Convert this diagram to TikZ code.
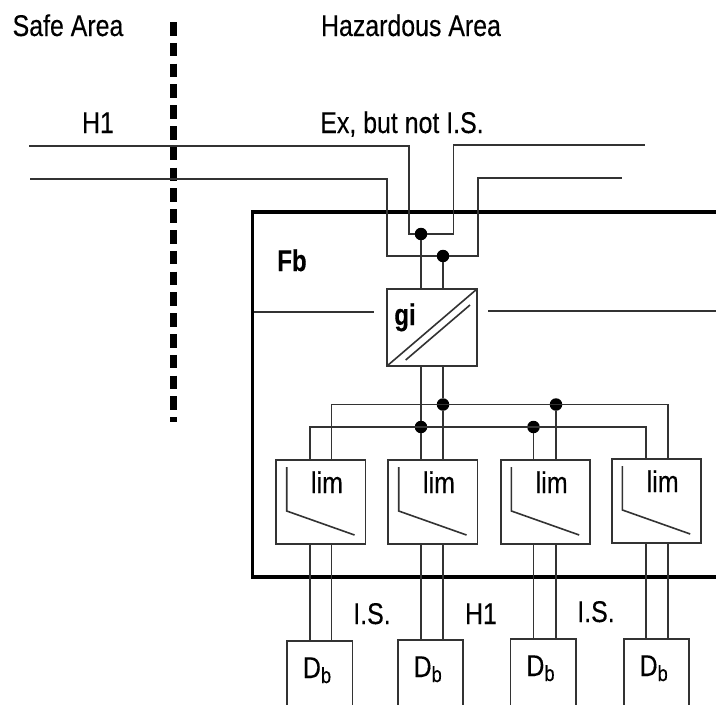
\documentclass[tikz,border=0pt]{standalone}
\usepackage{fontspec}
\setmainfont[FakeStretch=0.83,FakeBold=0.25,BoldFeatures={FakeStretch=0.8,FakeBold=0.4}]{Liberation Sans}
\definecolor{wirecol}{HTML}{333333}
\tikzset{
  x=1pt,y=-1pt,
  wire/.style={draw=wirecol,line width=1.6pt,line join=miter},
  frameline/.style={draw=black,line width=3.6pt,line join=miter},
  barrier/.style={draw=black,line width=7pt,dash pattern=on 13.5pt off 7.3pt},
  dotnode/.style={circle,fill=black,inner sep=0pt,outer sep=0pt,minimum size=12.5pt},
  txt/.style={anchor=base,inner sep=0pt,text=black,font=\fontsize{30}{32}\selectfont},
  boldtxt/.style={txt,font=\fontsize{30}{32}\selectfont\bfseries},
  box/.style={wire,rectangle,inner sep=0pt,outer sep=0pt,fill=white,anchor=north west},
  gibox/.style={box,minimum width=90pt,minimum height=77pt},
  limbox/.style={box,minimum width=89.5pt,minimum height=84pt},
  dbbox/.style={box,minimum width=65.5pt,minimum height=100pt},
}
\newcommand{\limcurve}[1]{%
  \draw[wire] ([shift={(10.7,7)}]#1.north west) -- ([shift={(10.7,51)}]#1.north west) -- ([shift={(78.5,75)}]#1.north west);
  \node[txt] at ([shift={(51,33)}]#1.north west) {lim};}
\newcommand{\dbtext}[1]{%
  \node[txt] at ([shift={(30,37)}]#1.north west) {D\raisebox{-5pt}{\fontsize{22}{24}\selectfont b}};}
\begin{document}
\begin{tikzpicture}
\clip (0,0) rectangle (716,705);
\fill[white] (0,0) rectangle (716,705);

% barrier
\coordinate (bt) at (173.5,22);
\coordinate (bb) at (173.5,422);
\draw[barrier] (bt) -- (bb);

% frame
\coordinate (fa) at (716,212);
\coordinate (fb) at (252.5,212);
\coordinate (fc) at (252.5,577);
\coordinate (fd) at (716,577);
\draw[frameline] (fa) -- (fb) -- (fc) -- (fd);

% gi box and limiters
\node[gibox] (gi) at (387,289) {};
\node[limbox] (lim1) at (276,460) {};
\node[limbox] (lim2) at (388,460) {};
\node[limbox] (lim3) at (500.7,460) {};
\node[limbox] (lim4) at (611.7,459) {};
\node[dbbox] (db1) at (287,641) {};
\node[dbbox] (db2) at (397.7,640) {};
\node[dbbox] (db3) at (510.5,639) {};
\node[dbbox] (db4) at (623.7,639) {};

% upper junctions
\node[dotnode] (j1) at (421,234) {};
\node[dotnode] (j2) at (443,256) {};
% bus junctions
\node[dotnode] (k1) at (443,404.5) {};
\node[dotnode] (k2) at (556,404.5) {};
\node[dotnode] (m1) at (421,427) {};
\node[dotnode] (m2) at (533.5,427) {};

% trunk wires
\coordinate (a1) at (29,146);
\coordinate (a2) at (409,146);
\coordinate (a3) at (409,234);
\coordinate (a4) at (453.5,234);
\coordinate (a5) at (453.5,145);
\coordinate (a6) at (645,145);
\draw[wire] (a1) -- (a2) -- (a3) -- (j1) -- (a4) -- (a5) -- (a6);
\coordinate (b1) at (30,179);
\coordinate (b2) at (387,179);
\coordinate (b3) at (387,256);
\coordinate (b4) at (478,256);
\coordinate (b5) at (478,178);
\coordinate (b6) at (622,178);
\draw[wire] (b1) -- (b2) -- (b3) -- (j2) -- (b4) -- (b5) -- (b6);

% to gi
\draw[wire] (j1) -- (j1 |- gi.north);
\draw[wire] (j2) -- (j2 |- gi.north);
\draw[wire] (j1 |- gi.south) -- (m1);
\draw[wire] (j2 |- gi.south) -- (k1);
\draw[wire] (m1) -- (m1 |- lim2.north);
\draw[wire] (k1) -- (k1 |- lim2.north);
\draw[wire] (m2) -- (m2 |- lim3.north);
\draw[wire] (k2) -- (k2 |- lim3.north);

% gi interior
\draw[wire] (gi.south west) -- (gi.north east);
\coordinate (g1) at (405.7,360);
\coordinate (g2) at (470,305);
\draw[wire] (g1) -- (g2);

% side lines
\coordinate (s1) at (254,312);
\coordinate (s2) at (374,312);
\coordinate (s3) at (488,311);
\coordinate (s4) at (716,311);
\draw[wire] (s1) -- (s2);
\draw[wire] (s3) -- (s4);

% buses
\coordinate (c1) at (331.5,460);
\coordinate (c2) at (331.5,404.5);
\coordinate (c3) at (668,404.5);
\coordinate (c4) at (668,459);
\draw[wire] (c1) -- (c2) -- (c3) -- (c4);
\coordinate (e1) at (309.7,460);
\coordinate (e2) at (309.7,427);
\coordinate (e3) at (645.7,427);
\coordinate (e4) at (645.7,459);
\draw[wire] (e1) -- (e2) -- (e3) -- (e4);

% limiter to device wires
\draw[wire] (e1 |- lim1.south) -- (e1 |- db1.north);
\draw[wire] (c1 |- lim1.south) -- (c1 |- db1.north);
\draw[wire] (m1 |- lim2.south) -- (m1 |- db2.north);
\draw[wire] (k1 |- lim2.south) -- (k1 |- db2.north);
\draw[wire] (m2 |- lim3.south) -- (m2 |- db3.north);
\draw[wire] (k2 |- lim3.south) -- (k2 |- db3.north);
\draw[wire] (e4 |- lim4.south) -- (e4 |- db4.north);
\draw[wire] (c4 |- lim4.south) -- (c4 |- db4.north);

\limcurve{lim1}\limcurve{lim2}\limcurve{lim3}\limcurve{lim4}
\dbtext{db1}\dbtext{db2}\dbtext{db3}\dbtext{db4}

% labels
\node[txt] (safe) at (68,36) {Safe Area};
\node[txt] (haz) at (411,36) {Hazardous Area};
\node[txt] (h1top) at (98,133) {H1};
\node[txt] (ex) at (402,133) {Ex, but not I.S.};
\node[boldtxt] (fbl) at (292,271) {Fb};
\node[boldtxt] (gil) at (405,325) {gi};
\node[txt] (is1) at (372,624) {I.S.};
\node[txt] (h1bot) at (481,624) {H1};
\node[txt] (is2) at (596,622) {I.S.};
\end{tikzpicture}
\end{document}
